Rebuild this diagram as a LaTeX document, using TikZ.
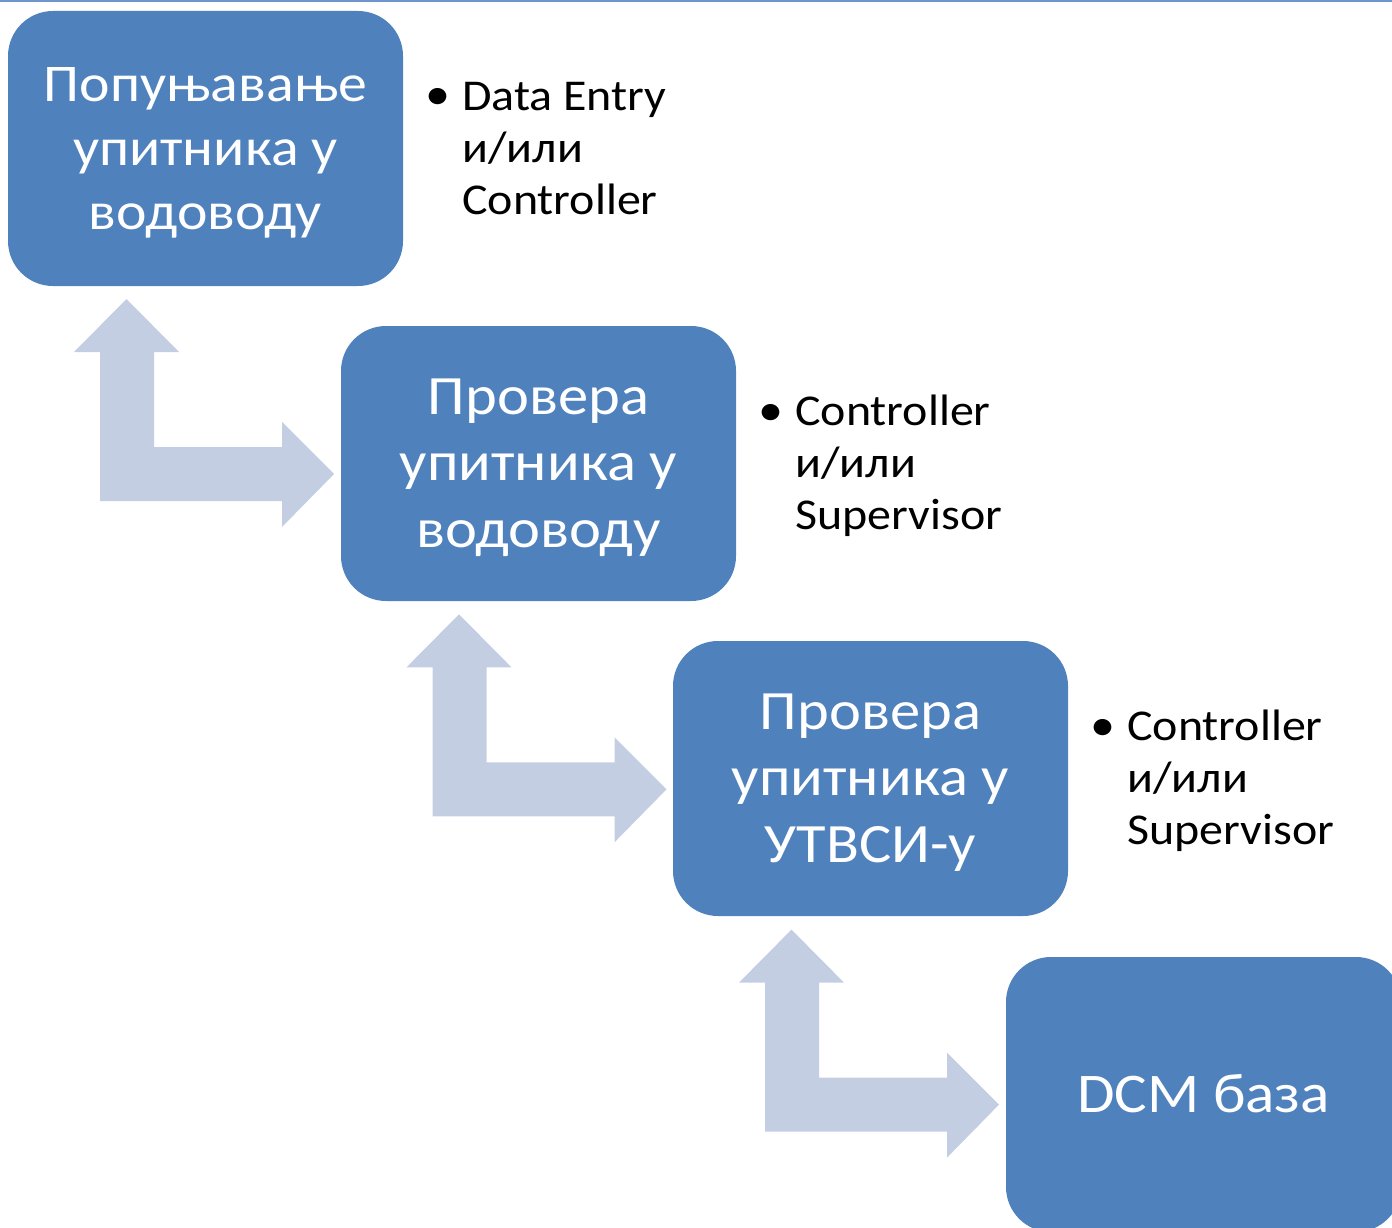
\documentclass[tikz,border=0pt]{standalone}
\usepackage{fontspec}
\setmainfont{Carlito}[FakeStretch=1.09]
\definecolor{boxblue}{RGB}{79,129,189}
\definecolor{arrowblue}{RGB}{195,206,227}
\definecolor{lineblue}{RGB}{110,150,205}
\begin{document}
\begin{tikzpicture}[x=1pt,y=-1pt,
  stepbox/.style={draw=none,fill=boxblue,rounded corners=45pt,minimum width=395pt,minimum height=275pt,inner sep=0pt,text=white,align=center,font=\fontsize{55.5}{66.5}\selectfont},
  boxlabel/.style={inner sep=0pt,text=white,align=center,font=\fontsize{55.5}{66.5}\selectfont},
  roletext/.style={anchor=base west,align=left,inner sep=0pt,text=black,font=\fontsize{44}{52}\selectfont},
  bulletdot/.style={anchor=base west,inner sep=0pt,text=black,font=\fontsize{46}{52}\selectfont},
  bentarrow/.style={fill=arrowblue,draw=none},
  pics/bentup/.style={code={
    \fill[bentarrow] (126.5,299) -- (179,352) -- (154,352) -- (154,447) -- (282,447) -- (282,422) -- (334,474) -- (282,527) -- (282,501) -- (100,501) -- (100,352) -- (74,352) -- cycle;
  }}]
\useasboundingbox (0,0) rectangle (1392,1228);
\clip (0,0) rectangle (1392,1228);
\coordinate (tl) at (0,1);
\coordinate (tr) at (1392,1);
\draw[lineblue,line width=2pt] (tl) -- (tr);
% arrows
\pic at (0,0) {bentup};
\pic at (332.5,315.3) {bentup};
\pic at (665,630.6) {bentup};
% boxes
\node[stepbox] (b1) at (205.5,148.5) {};
\node[stepbox] (b2) at (538.5,463.5) {};
\node[stepbox] (b3) at (870.5,778.5) {};
\node[stepbox] (b4) at (1203.5,1094.5) {};
\node[boxlabel,font=\fontsize{53}{64}\selectfont,yshift=-4pt] (l1) at (b1) {Попуњавање\\упитника у\\водоводу};
\node[boxlabel,yshift=-4pt] (l2) at (b2) {Провера\\упитника у\\водоводу};
\node[boxlabel,yshift=-4pt] (l3) at (b3) {Провера\\упитника у\\УТВСИ-у};
\node[boxlabel,font=\fontsize{56}{66}\selectfont,yshift=1pt] (l4) at (b4) {DCM база};
% role texts (anchored at the baseline of the last line)
\node[roletext] (r1) at (462,214) {Data Entry\\и/или\\Controller};
\node[bulletdot] (d1) at (425,110) {•};
\node[roletext] (r2) at (795,529) {Controller\\и/или\\Supervisor};
\node[bulletdot] (d2) at (758,425) {•};
\node[roletext] (r3) at (1127,844) {Controller\\и/или\\Supervisor};
\node[bulletdot] (d3) at (1090,740) {•};
\end{tikzpicture}
\end{document}
